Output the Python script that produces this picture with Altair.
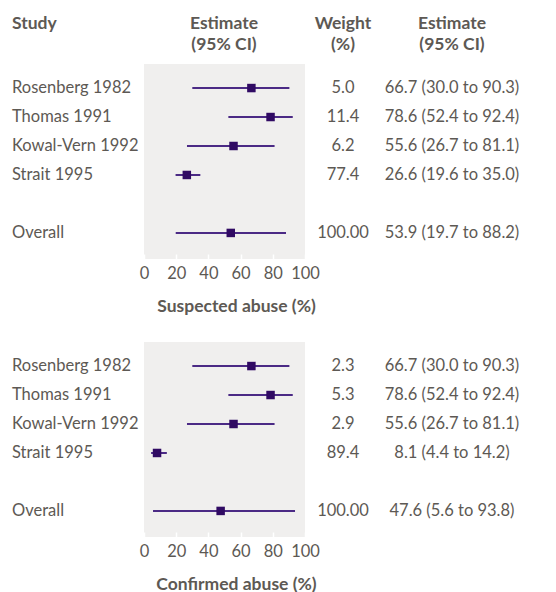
import altair as alt
import pandas as pd

studies = ["Rosenberg 1982", "Thomas 1991", "Kowal-Vern 1992", "Strait 1995", "Overall"]
rows = [0, 1, 2, 3, 5]

susp_est = [66.7, 78.6, 55.6, 26.6, 53.9]
susp_lo = [30.0, 52.4, 26.7, 19.6, 19.7]
susp_hi = [90.3, 92.4, 81.1, 35.0, 88.2]
susp_w = ["5.0", "11.4", "6.2", "77.4", "100.00"]

conf_est = [66.7, 78.6, 55.6, 8.1, 47.6]
conf_lo = [30.0, 52.4, 26.7, 4.4, 5.6]
conf_hi = [90.3, 92.4, 81.1, 14.2, 93.8]
conf_w = ["2.3", "5.3", "2.9", "89.4", "100.00"]

headers = ["Study", "Estimate\n(95% CI)", "Weight\n(%)", "Estimate\n(95% CI)"]
x_ticks = [0, 20, 40, 60, 80, 100]

TEXT = "#5d5954"
LINE = "#4b2a85"
SQ = "#300a63"
BG = "#f0efee"
FONT = "Lato"
FS = 16.5


def frame(est, lo, hi, w):
    return pd.DataFrame({
        "study": studies, "row": rows, "est": est, "lo": lo, "hi": hi, "weight": w,
        "label": [f"{e:.1f} ({l:.1f} to {h:.1f})" for e, l, h in zip(est, lo, hi)],
    })


def panel(df, title, with_header):
    base = alt.Chart(df)
    xs = alt.Scale(domain=[0, 100], nice=False, zero=False)
    ys = alt.Scale(domain=[-0.83, 5.9], reverse=True, nice=False, zero=False)
    y = alt.Y("row:Q", scale=ys, axis=None)
    ax = alt.Axis(
        values=x_ticks, title=title, domain=False, grid=False,
        tickColor="white", tickSize=5, tickWidth=1.5, offset=-5,
        labelOverlap=False, labelFlush=False, labelBound=False,
        labelFont=FONT, labelFontSize=FS, labelColor=TEXT, labelPadding=6,
        titleFont=FONT, titleFontSize=17.5, titleFontWeight="bold", titleColor=TEXT,
        titleX=92, titleY=52, titleBaseline="middle", titleAnchor="middle")
    rule = base.mark_rule(color=LINE, strokeWidth=2).encode(
        x=alt.X("lo:Q", scale=xs, axis=ax, title=title), x2="hi:Q", y=y)
    pts = base.mark_point(shape="square", filled=True, size=72, color=SQ, opacity=1).encode(
        x=alt.X("est:Q", scale=xs, axis=ax, title=title), y=y)
    study_txt = base.mark_text(align="left", baseline="middle", font=FONT, fontSize=FS, color=TEXT).encode(
        x=alt.value(-132), y=y, text="study:N")
    w_txt = base.mark_text(align="center", baseline="middle", font=FONT, fontSize=FS, color=TEXT).encode(
        x=alt.value(199), y=y, text="weight:N")
    e_txt = base.mark_text(align="center", baseline="middle", font=FONT, fontSize=FS, color=TEXT).encode(
        x=alt.value(308), y=y, text="label:N")
    layers = [rule, pts, study_txt, w_txt, e_txt]
    if with_header:
        hxs = [-132, 80, 199, 308]
        for i, h in enumerate(headers):
            hd = alt.Chart(pd.DataFrame({"h": [h.split("\n")]})).mark_text(
                align="left" if i == 0 else "center", baseline="middle", font=FONT, fontSize=17.5,
                fontWeight="bold", color=TEXT, lineHeight=21).encode(
                x=alt.value(hxs[i]), y=alt.value(-40), text="h")
            layers.append(hd)
    return alt.layer(*layers).properties(width=161, height=195)


top = panel(frame(susp_est, susp_lo, susp_hi, susp_w), "Suspected abuse (%)", True)
bot = panel(frame(conf_est, conf_lo, conf_hi, conf_w), "Confirmed abuse (%)", False)

chart = alt.vconcat(top, bot, spacing=27).configure_view(fill=BG, stroke=None).properties(
    padding={"left": 4, "top": 7, "right": 0, "bottom": 0})

chart.save("out.html", embed_options={"renderer": "svg", "actions": False})
